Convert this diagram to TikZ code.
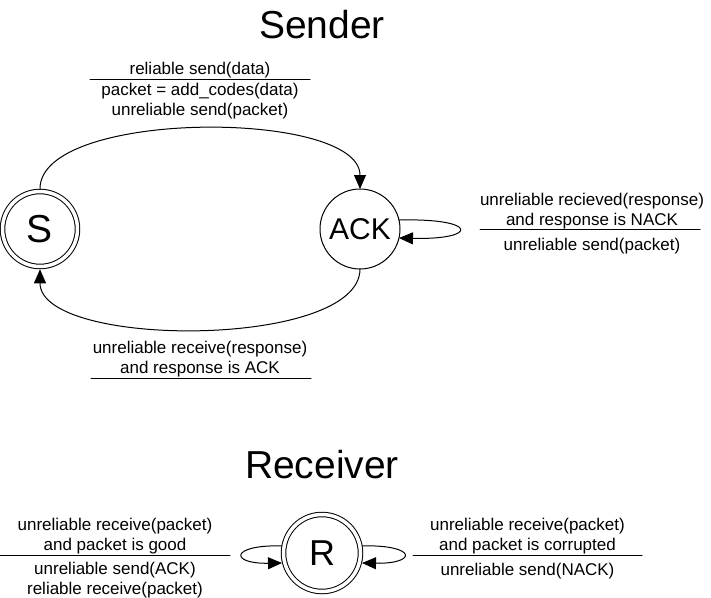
\documentclass[tikz,border=0pt]{standalone}
\usepackage{fontspec}
\setmainfont{Liberation Sans}
\usetikzlibrary{arrows.meta}

\begin{document}
\begin{tikzpicture}
    [x=1pt,y=-1pt,line cap=round,line join=round,line width=1pt,
     tip/.style={-{Triangle[length=14pt,width=12pt]}},
     state/.style={circle,draw,minimum size=80pt,inner sep=0pt,outer sep=0pt},
     accept/.style={state,double,double distance=3.5pt,minimum size=75pt,outer sep=2.75pt},
     lbl/.style={align=center,inner sep=0pt,anchor=base,font=\fontsize{17}{19.5}\selectfont},
     title/.style={inner sep=0pt,anchor=base,font=\fontsize{39}{44}\selectfont}]
\useasboundingbox (0,0) rectangle (711,597);
%sender
\node[title] (sendt) at (322,38) {Sender};
\node[accept,font=\fontsize{39}{44}\selectfont] (S) at (40,229) {S};
\node[state,font=\fontsize{30}{34}\selectfont] (A) at (360,229) {ACK};
\draw[tip] (S.north) .. controls (40,109) and (360,109) .. (A.north);
\draw[tip] (A.south) .. controls (360,349) and (40,349) .. (S.south);
\draw[tip] (A.13) .. controls +(80,-2) and +(80,2) .. (A.-13);
%labels of the sender (base = last line)
\node[lbl] (sendup) at (200,74) {reliable send(data)};
\node[lbl] (senddn) at (200,115) {packet = add\_codes(data)\\unreliable send(packet)};
\draw (90,79) -- (310,79);
\node[lbl] (nackup) at (592,225) {unreliable recieved(response)\\and response is NACK};
\node[lbl] (nackdn) at (592,250) {unreliable send(packet)};
\draw (480,229) -- (700,229);
\node[lbl] (ackup) at (200,373) {unreliable receive(response)\\and response is ACK};
\draw (91,378) -- (311,378);
%receiver
\node[title] (recvt) at (322,478) {Receiver};
\node[accept,minimum size=77pt,font=\fontsize{36}{40}\selectfont] (R) at (322,553) {R};
\draw[tip] (R.170) .. controls +(-52,-1) and +(-52,1) .. (R.194);
\draw[tip] (R.10) .. controls +(55,-1) and +(55,1) .. (R.-14);
%labels of the receiver
\node[lbl] (goodup) at (115,550) {unreliable receive(packet)\\and packet is good};
\node[lbl] (gooddn) at (115,594) {unreliable send(ACK)\\reliable receive(packet)};
\draw (0,555) -- (230,555);
\node[lbl] (badup) at (527.5,550) {unreliable receive(packet)\\and packet is corrupted};
\node[lbl] (baddn) at (527.5,575) {unreliable send(NACK)};
\draw (413,555) -- (642,555);
\end{tikzpicture}
\end{document}
